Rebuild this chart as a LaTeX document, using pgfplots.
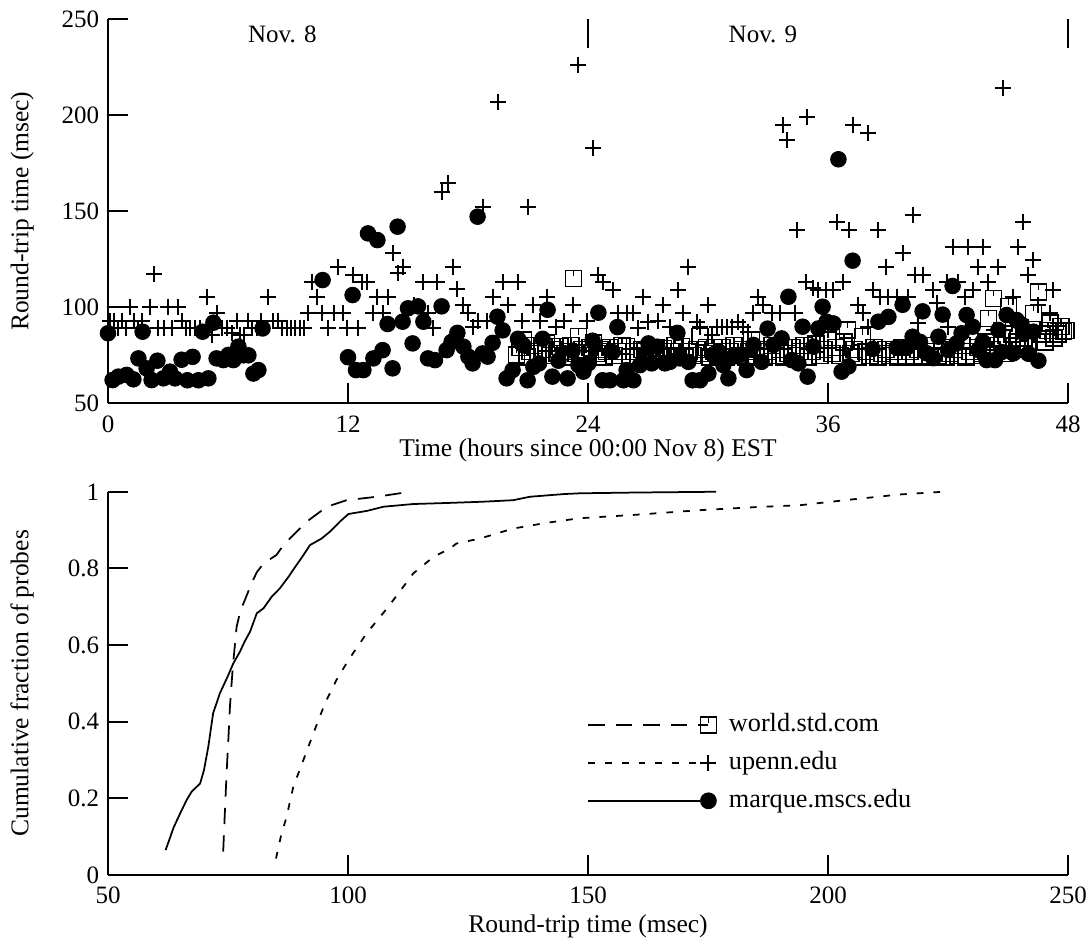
\documentclass[border=0pt]{standalone}
\usepackage{fontspec}
\setmainfont{Liberation Serif}
\usepackage{pgfplots}
\pgfplotsset{compat=1.18}

% square with a short notch hanging from the middle of its top edge
\pgfdeclareplotmark{nsquare}{%
  \pgfpathrectangle{\pgfqpoint{-\pgfplotmarksize}{-\pgfplotmarksize}}{\pgfqpoint{2\pgfplotmarksize}{2\pgfplotmarksize}}%
  \pgfpathmoveto{\pgfqpoint{0pt}{\pgfplotmarksize}}%
  \pgfpathlineto{\pgfqpoint{0pt}{0.25\pgfplotmarksize}}%
  \pgfusepathqstroke}

\pgfplotsset{
  rttaxis/.style={
    scale only axis, width=384pt,
    axis x line*=bottom, axis y line*=left,
    axis line style={line width=0.8pt},
    tick style={line width=0.8pt, black},
    tick align=inside, major tick length=8pt,
    /pgf/number format/assume math mode=true,
    tick label style={font=\fontsize{10}{12}\selectfont},
    label style={font=\fontsize{10.2}{12}\selectfont},
    xticklabel style={anchor=base, yshift=-11.5pt},
    clip=false,
  },
  wsq/.style={only marks, mark=nsquare, mark size=3.2pt, mark options={line width=0.6pt, draw=black, fill=none}},
  upl/.style={only marks, mark=+, mark size=3.2pt, mark options={line width=0.8pt, draw=black}},
  mdot/.style={only marks, mark=*, mark size=3.1pt, mark options={draw=black, fill=black}},
}

\begin{document}
\begin{tikzpicture}
\useasboundingbox (0,0) rectangle (435.2pt,-374.8pt);

% ---------- round-trip time over two days ----------
\begin{axis}[rttaxis,
  at={(43.2pt,-161.32pt)}, anchor=south west, height=153.6pt,
  xmin=0, xmax=48, ymin=50, ymax=250,
  xtick={0,12,24,36,48}, ytick={50,100,150,200,250},
  xlabel={Time (hours since 00:00 Nov 8) EST},
  ylabel={Round-trip time (msec)},
  xlabel style={at={(axis description cs:0.5,-0.138)}, anchor=base},
  ylabel style={at={(axis description cs:-0.083,0.5)}, anchor=base},
]
% world.std.com
\addplot[wsq] coordinates {
(20.43,75.2) (20.6,79) (20.77,83) (20.95,74) (21.1,77) (21.3,80) (21.5,76) (21.7,78)
(21.93,81.3) (22.1,75) (22.3,78) (22.45,76) (22.6,79.5) (22.8,74) (23.0,77) (23.15,80)
(23.27,115.1) (23.4,76) (23.52,84.7) (23.7,78) (23.9,75) (24.1,79) (24.27,81.3) (24.45,76)
(24.6,78) (24.8,74) (24.93,76.9) (25.1,79) (25.3,75) (25.5,77) (25.7,80) (25.93,79.5)
(26.1,74) (26.3,77) (26.5,75) (26.7,78) (26.85,77.8) (27.0,74) (27.2,76) (27.4,79)
(27.6,75) (27.77,78.6) (27.95,74) (28.15,77) (28.35,80) (28.5,75) (28.68,79.5) (28.85,74)
(29.05,77) (29.25,75) (29.45,78) (29.6,84.7) (29.8,76) (29.93,79) (30.1,74) (30.3,77)
(30.5,75) (30.7,79) (30.9,74) (31.1,77) (31.3,80) (31.5,75) (31.7,78) (31.9,74)
(32.05,77) (32.18,83) (32.4,75) (32.6,78) (32.8,74) (33.0,77) (33.2,80) (33.4,75)
(33.6,78) (33.8,74) (34.0,76) (34.2,79) (34.4,75) (34.6,77) (34.8,80) (35.0,74)
(35.2,77) (35.4,81) (35.6,75) (35.8,78) (36.0,83) (36.2,76) (36.4,79) (36.6,75)
(36.8,82) (36.97,88.2) (37.15,76) (37.3,78) (37.5,74) (37.73,84.7) (37.9,77) (38.1,75)
(38.3,79) (38.5,74) (38.7,76) (38.9,78) (39.1,75) (39.3,77) (39.5,74) (39.7,79)
(39.9,75) (40.1,77) (40.3,74) (40.5,78) (40.7,75) (40.9,80) (41.1,74) (41.3,77)
(41.5,75) (41.7,79) (41.9,74) (42.1,76) (42.3,78) (42.5,75) (42.7,80) (42.9,74)
(43.1,77) (43.3,75) (43.5,79) (43.7,76) (43.9,82) (44.02,94.3) (44.2,78) (44.27,104.7)
(44.5,80) (44.7,84) (44.85,76) (45.02,100.4) (45.2,86) (45.27,88.2) (45.45,82) (45.6,78)
(45.8,84) (46.0,80) (46.27,96.9) (46.52,108.1) (46.7,86) (46.85,82) (47.0,88) (47.1,91.7)
(47.3,84) (47.5,86) (47.65,90) (47.77,87.3) (47.9,88)
};
% upenn.edu
\addplot[upl] coordinates {
(0.1,92.9) (0.3,92.9) (0.5,89.4) (0.7,92.9) (0.9,89.4) (1.1,100.3) (1.3,92.9) (1.5,89.4)
(1.7,92.9) (2.1,100.3) (2.3,117.5) (2.5,89.4) (2.8,89.4) (3.0,100.3) (3.2,89.4) (3.5,100.3)
(3.7,92.9) (3.9,89.4) (4.1,89.4) (4.35,89.4) (4.6,89.4) (4.95,105.5) (5.2,85.6) (5.45,96.9)
(5.7,89.4) (5.95,89.4) (6.2,86.5) (6.45,92.9) (6.6,85.6) (6.8,85.6) (7.0,92.9) (7.2,89.4)
(7.45,89.4) (7.65,92.9) (8.0,105.5) (8.25,92.9) (8.5,92.9) (8.7,89.4) (8.95,89.4) (9.15,89.4)
(9.35,89.4) (9.6,89.4) (9.8,89.4) (10.0,96.9) (10.2,113.3) (10.45,105.5) (10.7,96.9) (11.0,89.4)
(11.3,96.9) (11.5,121) (11.75,96.9) (11.95,89.4) (12.27,117) (12.52,89.4) (12.68,113.3) (12.93,113.3)
(13.27,97.2) (13.43,105.5) (13.77,97.2) (14.0,105.5) (14.23,128.1) (14.52,117.7) (14.77,121.2) (15.3,101)
(15.77,113.3) (16.02,96.9) (16.27,89.4) (16.43,113.3) (16.68,160.2) (17.02,164.6) (17.23,121.2) (17.47,109.4)
(17.77,101.3) (18.02,96.9) (18.27,89.9) (18.52,92.9) (18.77,152.1) (18.93,92.9) (19.23,105.5) (19.52,207.1)
(19.73,113.3) (19.98,101.3) (20.5,113.3) (20.68,92.9) (21.02,152.1) (21.23,101.3) (21.6,92.9) (21.97,105.5)
(22.4,90) (22.8,92.9) (23.27,101.3) (23.52,226.2) (23.93,92.9) (24.23,182.8) (24.52,116.8) (24.77,113.3)
(25.27,109) (25.52,96.9) (25.93,96.9) (26.27,96.9) (26.52,89) (26.77,105.5) (27.02,92.5) (27.52,92.9)
(27.77,101.3) (28.1,89.9) (28.52,109) (28.77,96.9) (29.02,121.2) (29.43,92.5) (29.6,89.9) (30.02,101.3)
(30.18,85.6) (30.43,89.9) (30.68,89.9) (30.93,89.9) (31.18,89.9) (31.52,92.5) (31.77,89.9) (32.02,87.3)
(32.23,96.9) (32.52,105.5) (32.77,101.3) (33.18,96.9) (33.6,96.9) (33.73,195) (33.97,187.1) (34.35,96.9)
(34.47,140.3) (34.9,113.3) (34.97,199.1) (35.27,109.8) (35.52,109) (35.9,109) (36.0,92) (36.27,109)
(36.43,144.6) (36.77,113.3) (37.07,140.3) (37.23,195) (37.52,101.3) (37.77,96.9) (38.0,90) (38.02,190.7)
(38.27,109) (38.52,140.3) (38.6,105.5) (38.9,121.2) (39.02,105.5) (39.43,105.5) (39.73,128.1) (40.02,105.5)
(40.27,148.1) (40.35,117) (40.5,92) (40.77,117) (41.27,109) (41.43,102) (41.93,113.3) (42.0,90)
(42.27,131.6) (42.52,113.3) (42.85,105.5) (43.02,131.6) (43.27,109) (43.52,121.2) (43.77,131.6) (44.02,113.3)
(44.3,88) (44.52,121.2) (44.73,214) (45.27,105.5) (45.52,131.6) (45.73,144.6) (46.0,90) (46.02,117)
(46.23,124.6) (46.52,101.3) (47.1,96.9) (47.27,109) (47.5,92)
};
% marque.mscs.edu
\addplot[mdot] coordinates {
(0.0,86.5) (0.23,62.1) (0.52,63.9) (0.93,64.8) (1.27,62.5) (1.52,73.4) (1.73,87.3) (1.93,68.2)
(2.18,62.1) (2.47,72.2) (2.77,63) (3.1,66.5) (3.35,63) (3.68,72.7) (3.97,62) (4.23,74.2)
(4.52,62) (4.73,87.3) (5.02,63) (5.27,92) (5.43,73.4) (5.77,72.5) (6.02,75.2) (6.27,72.5)
(6.52,79.5) (6.77,75) (7.02,75) (7.27,65.5) (7.52,67.3) (7.73,89) (10.73,114.2) (12.0,74)
(12.23,106.4) (12.4,67.3) (12.77,67.3) (13.0,138.5) (13.27,73.4) (13.47,135) (13.73,77.7) (13.98,91.3)
(14.23,68.2) (14.48,142) (14.73,92.5) (15.0,99.5) (15.23,81.2) (15.5,100.5) (15.77,92.5) (16.0,73.4)
(16.35,72.5) (16.68,100.5) (16.93,77.7) (17.18,82) (17.47,86.7) (17.77,79.5) (18.02,74.3) (18.23,70.8)
(18.48,147.2) (18.73,76) (18.98,74.3) (19.23,81.5) (19.47,95.1) (19.73,88) (19.93,63) (20.23,67.3)
(20.5,83.6) (20.77,80.2) (20.98,62) (21.27,69) (21.55,70.8) (21.73,83.6) (21.98,98.7) (22.22,63.9)
(22.52,72.2) (22.98,63) (23.23,77.4) (23.52,69.9) (23.77,66.5) (24.02,70.8) (24.23,82.6) (24.52,97.2)
(24.73,62) (25.1,62) (25.23,76.7) (25.47,89.7) (25.77,62) (25.93,67.3) (26.27,62) (26.6,69.9)
(27.02,81.2) (27.18,70.8) (27.47,79.5) (27.85,70.8) (28.1,71.6) (28.47,86.7) (28.6,73.4) (29.02,71.6)
(29.23,62) (29.6,62) (30.02,65.5) (30.27,75) (30.52,77) (30.77,69.9) (31.02,63) (31.27,74.3)
(31.6,75.2) (31.93,67.3) (32.27,80.4) (32.68,71.6) (32.98,88.9) (33.27,80.4) (33.68,83.8) (34.02,105.5)
(34.18,72.5) (34.52,70.8) (34.73,89.9) (34.98,63.9) (35.27,79.5) (35.52,89) (35.73,100.3) (35.93,92.5)
(36.27,91.6) (36.52,177.1) (36.68,66.5) (37.02,69.2) (37.23,124.3) (38.23,78.3) (38.52,92.5) (39.02,95)
(39.43,79) (39.73,101.3) (39.93,79) (40.23,84.7) (40.6,82) (40.73,97.9) (40.93,76.1) (41.27,73.5)
(41.52,84.7) (41.73,96.2) (42.0,77.8) (42.23,111.1) (42.43,81.2) (42.68,86.5) (42.93,96) (43.23,89.9)
(43.52,77.8) (43.73,82) (43.93,72.5) (44.35,72.5) (44.52,88.2) (44.68,76.7) (44.93,96) (45.27,76)
(45.43,93.4) (45.68,91) (45.8,86.5) (46.02,75.8) (46.27,87.3) (46.52,72.2)
};
\node[anchor=base, font=\fontsize{10}{12}\selectfont] at (axis cs:8.72,237.7) {Nov. 8};
\node[anchor=base, font=\fontsize{10}{12}\selectfont] at (axis cs:32.75,237.7) {Nov. 9};
\draw[line width=0.8pt] (axis cs:24,250) -- (axis cs:24,235);
\draw[line width=0.8pt] (axis cs:48,250) -- (axis cs:48,235);
\end{axis}

% ---------- cumulative distributions ----------
\begin{axis}[rttaxis,
  at={(43.2pt,-350pt)}, anchor=south west, height=153.3pt,
  xmin=50, xmax=250, ymin=0, ymax=1,
  xtick={50,100,150,200,250}, ytick={0,0.2,0.4,0.6,0.8,1},
  yticklabels={0,0.2,0.4,0.6,0.8,1},
  xlabel={Round-trip time (msec)},
  ylabel={Cumulative fraction of probes},
  xlabel style={at={(axis description cs:0.5,-0.151)}, anchor=base},
  ylabel style={at={(axis description cs:-0.083,0.5)}, anchor=base},
  legend style={draw=none, fill=none, inner sep=0pt, at={(axis cs:149.8,0.4226)}, anchor=north west,
    row sep=6.2pt, column sep=5pt,
    nodes={inner sep=0pt, text height=7pt, text depth=2pt, font=\fontsize{10.5}{12}\selectfont}},
  legend cell align=left,
  legend image code/.code={
    \draw[#1, mark=none] (0pt,0pt) -- (48pt,0pt);
    \draw[#1, solid] plot coordinates {(48pt,0pt)};
  },
]
\addlegendimage{line width=0.7pt, dash pattern=on 6.5pt off 4.5pt, mark=nsquare, mark size=3.2pt, mark options={line width=0.6pt, fill=none}}
\addlegendentry{world.std.com}
\addlegendimage{line width=0.7pt, dash pattern=on 2.7pt off 4pt, mark=+, mark size=3.2pt, mark options={line width=0.8pt}}
\addlegendentry{upenn.edu}
\addlegendimage{line width=0.7pt, mark=*, mark size=3pt, mark options={fill=black}}
\addlegendentry{marque.mscs.edu}

% world.std.com
\addplot[forget plot, line width=0.7pt, dash pattern=on 6.5pt off 4.5pt] coordinates {
(74.0,0.061) (74.3,0.15) (74.7,0.265) (75.1,0.36) (75.4,0.439) (76.0,0.543) (76.8,0.648) (77.6,0.69)
(78.5,0.717) (79.9,0.761) (81.0,0.79) (82.4,0.813) (85.1,0.835) (86.5,0.86) (87.9,0.878) (91.4,0.922)
(95.6,0.961) (99.7,0.978) (106,0.987) (112.9,1.0)
};
% upenn.edu
\addplot[forget plot, line width=0.7pt, dash pattern=on 2.7pt off 4pt] coordinates {
(85.0,0.043) (86.0,0.10) (87.2,0.152) (88.6,0.230) (90.7,0.300) (92.8,0.370) (95.2,0.448) (97.6,0.509)
(100.1,0.561) (103.9,0.631) (108.4,0.700) (113.6,0.787) (117.8,0.830) (121.25,0.852) (122.6,0.865) (127.5,0.878)
(134.4,0.904) (141.4,0.919) (148.3,0.931) (160,0.940) (173.3,0.952) (185,0.960) (194.2,0.965) (205,0.98)
(215,0.993) (224,1.0)
};
% marque.mscs.edu
\addplot[forget plot, line width=0.7pt] coordinates {
(62.0,0.065) (63.0,0.10) (63.6,0.122) (65.0,0.16) (66.4,0.196) (67.4,0.217) (69.2,0.239) (70.0,0.274)
(70.9,0.335) (71.9,0.422) (73.3,0.474) (75.0,0.52) (76.1,0.552) (77.5,0.583) (78.5,0.61) (79.6,0.635)
(81.0,0.683) (82.4,0.696) (84.1,0.726) (85.8,0.748) (87.6,0.778) (89.0,0.804) (90.4,0.829) (92.1,0.861)
(94.5,0.878) (96.25,0.896) (98.3,0.922) (100.1,0.942) (103.9,0.950) (107.4,0.961) (113.6,0.968) (121.25,0.971)
(128,0.974) (134.4,0.978) (137.9,0.987) (145,0.994) (148.3,0.996) (160,0.998) (176.7,1.0)
};
\end{axis}
\end{tikzpicture}
\end{document}
